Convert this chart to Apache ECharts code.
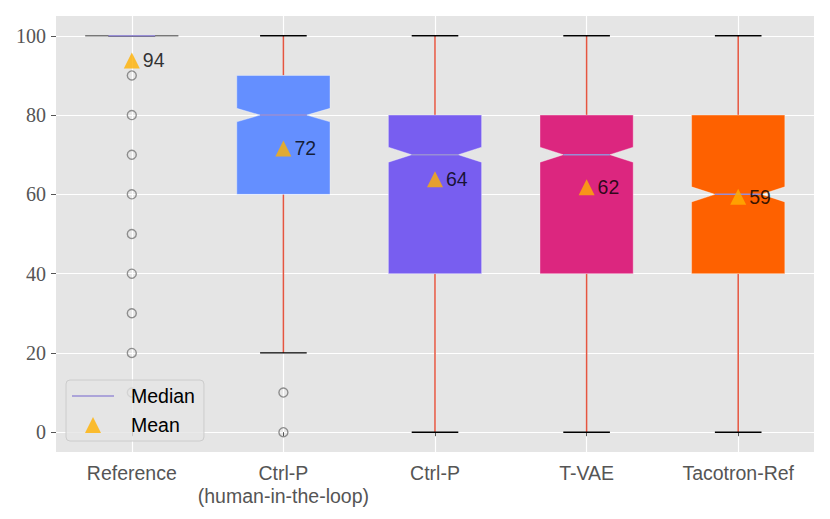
<!DOCTYPE html>
<html>
<head>
<meta charset="utf-8">
<script src="https://cdn.jsdelivr.net/npm/echarts@6/dist/echarts.min.js"></script>
<style>html,body{margin:0;padding:0;background:#fff}#c{width:830px;height:519px}</style>
</head>
<body>
<div id="c"></div>
<script>
const categories = ['Reference', 'Ctrl-P\n(human-in-the-loop)', 'Ctrl-P', 'T-VAE', 'Tacotron-Ref'];
const whiskerLow = [100, 20, 0, 0, 0];
const q1 = [100, 60, 40, 40, 40];
const median = [100, 80, 70, 70, 60];
const q3 = [100, 90, 80, 80, 80];
const whiskerHigh = [100, 100, 100, 100, 100];
const notchLow = [100, 78.3, 68.1, 68.1, 58.1];
const notchHigh = [100, 81.7, 71.9, 71.9, 61.9];
const means = [93.8, 71.6, 63.8, 61.8, 59.4];
const outlierCat = [0, 0, 0, 0, 0, 0, 0, 0, 0, 1, 1];
const outlierVal = [90, 80, 70, 60, 50, 40, 30, 20, 10, 10, 0];
const yTicks = [0, 20, 40, 60, 80, 100];
const xTicks = [1, 2, 3, 4, 5];

const boxColors = ['none', '#648FFF', '#785EF0', '#DC267F', '#FE6100'];
const boxWidth = 0.615;
const sans = 'Liberation Sans';

const chart = echarts.init(document.getElementById('c'), null, {renderer: 'svg'});

const option = {
  animation: false,
  backgroundColor: '#ffffff',
  grid: {left: 56, right: 16, top: 16, bottom: 67, show: true, backgroundColor: '#E5E5E5', borderWidth: 0},
  legend: {
    left: 66, top: 380, orient: 'vertical',
    padding: [5, 9, 5, 6], itemGap: 7,
    itemWidth: 42, itemHeight: 16,
    backgroundColor: 'rgba(229,229,229,0.8)', borderColor: '#cccccc', borderWidth: 1, borderRadius: 4,
    textStyle: {fontFamily: sans, fontSize: 19.5, color: '#000', lineHeight: 22, padding: [0, 0, 0, 12]},
    data: [
      {name: 'Median', icon: 'path://M0,0L40,0L40,1.4L0,1.4Z'},
      {name: 'Mean', icon: 'path://M0,0L0.01,0L0,0.01Z M42,16L41.99,16L42,15.99Z M13,16L21,0L29,16Z'}
    ]
  },
  xAxis: {
    type: 'value', min: 0.5, max: 5.5,
    axisLine: {show: false},
    axisTick: {show: true, length: 4, lineStyle: {color: '#555'}, customValues: xTicks},
    axisLabel: {
      customValues: xTicks, margin: 9,
      fontFamily: sans, fontSize: 19.5, color: '#555', lineHeight: 23,
      formatter: v => categories[Math.round(v) - 1]
    },
    splitLine: {show: true, lineStyle: {color: '#ffffff', width: 1.2}}
  },
  yAxis: {
    type: 'value', min: -5, max: 105,
    axisLine: {show: false},
    axisTick: {show: true, length: 5, lineStyle: {color: '#555'}, customValues: yTicks},
    axisLabel: {customValues: yTicks, margin: 10, fontFamily: 'Liberation Serif', fontSize: 20, color: '#555'},
    splitLine: {show: true, lineStyle: {color: '#ffffff', width: 1.2}}
  },
  series: [
    {
      type: 'scatter', name: 'outliers', z: 2,
      symbol: 'circle', symbolSize: 9,
      itemStyle: {color: 'rgba(0,0,0,0)', borderColor: '#777', borderWidth: 1.4},
      data: outlierVal.map((v, k) => [outlierCat[k] + 1, v])
    },
    {
      type: 'custom', name: 'boxes', z: 3,
      data: categories.map((c, i) => [i + 1, whiskerLow[i], q1[i], median[i], q3[i], whiskerHigh[i]]),
      encode: {x: 0, y: [1, 5]},
      renderItem: function (params, api) {
        const i = params.dataIndex;
        const x = i + 1;
        const cx = api.coord([x, 0])[0];
        const hw = api.size([boxWidth, 0])[0] / 2;
        const Y = v => api.coord([x, v])[1];
        const wStyle = {stroke: '#E5553F', lineWidth: 1.5};
        const cStyle = {stroke: '#000', lineWidth: 1.4};
        const ch = [];
        ch.push({type: 'line', shape: {x1: cx, y1: Y(whiskerLow[i]), x2: cx, y2: Y(q1[i])}, style: wStyle});
        ch.push({type: 'line', shape: {x1: cx, y1: Y(q3[i]), x2: cx, y2: Y(whiskerHigh[i])}, style: wStyle});
        ch.push({type: 'line', shape: {x1: cx - hw / 2, y1: Y(whiskerLow[i]), x2: cx + hw / 2, y2: Y(whiskerLow[i])}, style: cStyle});
        ch.push({type: 'line', shape: {x1: cx - hw / 2, y1: Y(whiskerHigh[i]), x2: cx + hw / 2, y2: Y(whiskerHigh[i])}, style: cStyle});
        const pts = [
          [cx - hw, Y(q1[i])], [cx + hw, Y(q1[i])], [cx + hw, Y(notchLow[i])], [cx + hw / 2, Y(median[i])],
          [cx + hw, Y(notchHigh[i])], [cx + hw, Y(q3[i])], [cx - hw, Y(q3[i])], [cx - hw, Y(notchHigh[i])],
          [cx - hw / 2, Y(median[i])], [cx - hw, Y(notchLow[i])]
        ];
        const isRef = boxColors[i] === 'none';
        if (isRef) {
          ch.push({type: 'line', shape: {x1: cx - hw, y1: Y(q1[i]), x2: cx + hw, y2: Y(q1[i])}, style: {stroke: '#777', lineWidth: 1.4}});
        } else {
          ch.push({type: 'polygon', shape: {points: pts}, style: {fill: boxColors[i], stroke: 'rgba(255,255,255,0.35)', lineWidth: 1}});
        }
        ch.push({type: 'line', shape: {x1: cx - hw / 2, y1: Y(median[i]), x2: cx + hw / 2, y2: Y(median[i])}, style: {stroke: '#988ED5', lineWidth: 1.5}});
        return {type: 'group', children: ch};
      }
    },
    {
      type: 'line', name: 'Median', data: [], itemStyle: {color: '#988ED5'}, lineStyle: {color: '#988ED5'}
    },
    {
      type: 'scatter', name: 'Mean', z: 5,
      symbol: 'triangle', symbolSize: 16,
      itemStyle: {color: '#FFB000'},
      label: {
        show: true, position: 'right', distance: 3,
        fontFamily: sans, fontSize: 19.5, color: '#000',
        formatter: p => String(Math.round(p.value[1]))
      },
      data: means.map((v, i) => [i + 1, v])
    }
  ]
};
chart.setOption(option);
</script>
</body>
</html>
